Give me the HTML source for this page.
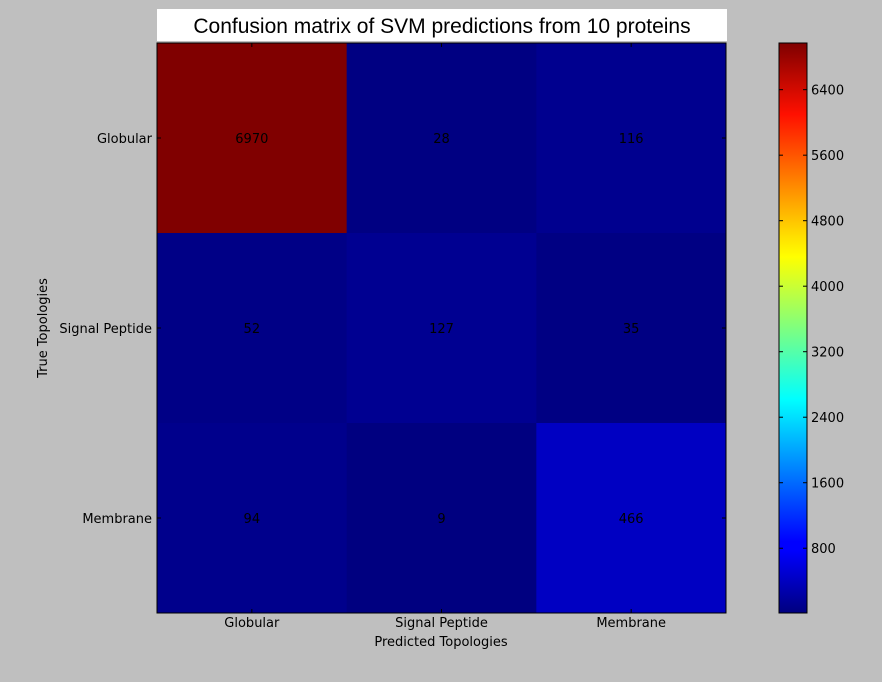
<!DOCTYPE html>
<html><head><meta charset="utf-8"><style>
body{margin:0;background:#bfbfbf;}
svg{display:block;font-family:"DejaVu Sans","Liberation Sans",sans-serif;}
</style></head><body>
<svg id="c" width="882" height="682" xmlns="http://www.w3.org/2000/svg">
<rect x="0" y="0" width="882" height="682" fill="#bfbfbf"/>
<defs><linearGradient id="jet" x1="0" y1="1" x2="0" y2="0">
<stop offset="0" stop-color="#00007f"/><stop offset="0.11" stop-color="#0000ff"/><stop offset="0.125" stop-color="#0000ff"/><stop offset="0.34" stop-color="#00dcff"/><stop offset="0.375" stop-color="#00ffff"/><stop offset="0.5" stop-color="#7fff7f"/><stop offset="0.625" stop-color="#ffff00"/><stop offset="0.66" stop-color="#ffe000"/><stop offset="0.875" stop-color="#ff1000"/><stop offset="1" stop-color="#7f0000"/>
</linearGradient></defs>
<rect x="157" y="9" width="570" height="32" fill="#fff"/>
<text x="442" y="33" text-anchor="middle" font-family="Liberation Sans, sans-serif" font-size="21" fill="#000">Confusion matrix of SVM predictions  from 10 proteins</text>
<g id="cells"></g>
<rect x="157" y="43" width="569" height="570" fill="none" stroke="#000" stroke-width="1"/>
<g id="axes"></g>
<text x="441" y="646" text-anchor="middle" font-size="13" fill="#000">Predicted Topologies</text>
<text transform="translate(47,328) rotate(-90)" text-anchor="middle" font-size="13" fill="#000">True Topologies</text>
<rect x="779" y="43" width="28" height="570" fill="url(#jet)" stroke="#000" stroke-width="1"/>
<g id="cbar"></g>
</svg>
<script>
const categories = ["Globular","Signal Peptide","Membrane"];
const row0 = [6970, 28, 116];
const row1 = [52, 127, 35];
const row2 = [94, 9, 466];
const matrix = [row0, row1, row2];
const cbarTicks = [800,1600,2400,3200,4000,4800,5600,6400];
const vmin = 9, vmax = 6970;

const NS="http://www.w3.org/2000/svg";
const X0=157,Y0=43,W=569,H=570;
const n=categories.length, cw=W/n, ch=H/n;
function xPos(i){return X0+i*cw;}
function yPos(j){return Y0+j*ch;}
function cbY(v){return 613-(v-vmin)/(vmax-vmin)*570;}
function jet(t){
  function c(x){return Math.max(0,Math.min(1,x));}
  const r=c(1.5-Math.abs(4*t-3)), g=c(1.5-Math.abs(4*t-2)), b=c(1.5-Math.abs(4*t-1));
  return `rgb(${Math.round(r*255)},${Math.round(g*255)},${Math.round(b*255)})`;
}
function mk(tag,attrs,parent){const e=document.createElementNS(NS,tag);for(const k in attrs)e.setAttribute(k,attrs[k]);parent.appendChild(e);return e;}
const cells=document.getElementById('cells'), axes=document.getElementById('axes'), cbar=document.getElementById('cbar');
matrix.forEach((row,j)=>row.forEach((v,i)=>{
  const r=mk('rect',{x:xPos(i),y:yPos(j),width:cw+0.5,height:ch+0.5,fill:jet((v-vmin)/(vmax-vmin))},cells);
  
  
  const t=mk('text',{x:xPos(i)+cw/2,y:yPos(j)+ch/2+5,'text-anchor':'middle','font-size':13,fill:'#000'},cells);
  t.textContent=v;
  
  
}));
categories.forEach((c,i)=>{
  const cx=xPos(i)+cw/2, cy=yPos(i)+ch/2;
  mk('line',{x1:cx,y1:Y0,x2:cx,y2:Y0+4,stroke:'#000'},axes);
  mk('line',{x1:cx,y1:Y0+H,x2:cx,y2:Y0+H-4,stroke:'#000'},axes);
  mk('line',{x1:X0,y1:cy,x2:X0+4,y2:cy,stroke:'#000'},axes);
  mk('line',{x1:X0+W,y1:cy,x2:X0+W-4,y2:cy,stroke:'#000'},axes);
  const tx=mk('text',{x:cx,y:627,'text-anchor':'middle','font-size':13,fill:'#000'},axes);
  tx.textContent=c;
  
  
  const ty=mk('text',{x:152,y:cy+5,'text-anchor':'end','font-size':13,fill:'#000'},axes);
  ty.textContent=c;
  
  
});
cbarTicks.forEach(v=>{
  const y=cbY(v);
  mk('line',{x1:779,y1:y,x2:783,y2:y,stroke:'#000'},cbar);
  mk('line',{x1:807,y1:y,x2:803,y2:y,stroke:'#000'},cbar);
  const t=mk('text',{x:811,y:y+5,'font-size':13,fill:'#000'},cbar);
  t.textContent=v;
  
  
});
</script>
</body></html>
